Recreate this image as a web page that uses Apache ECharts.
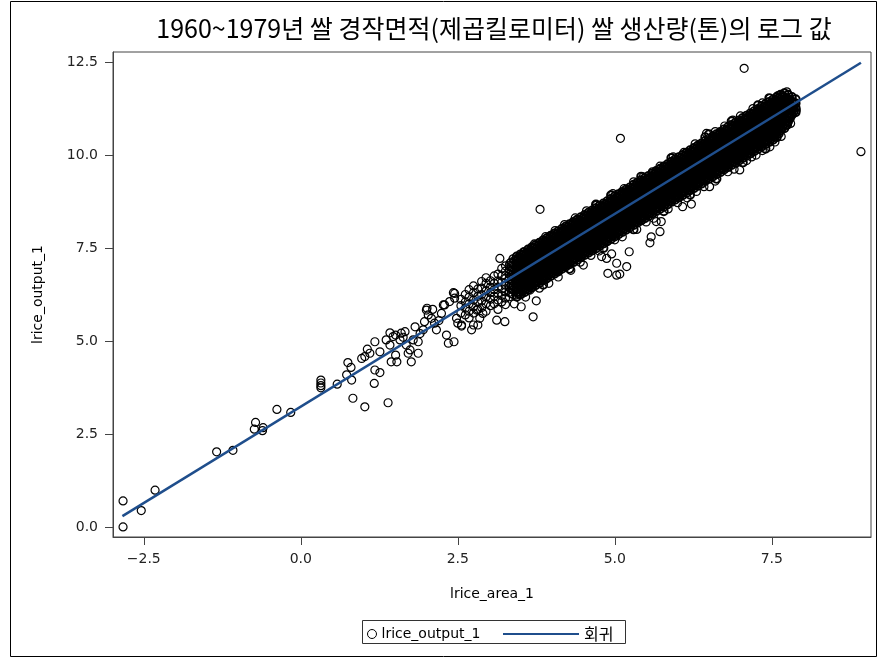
<!DOCTYPE html>
<html>
<head>
<meta charset="utf-8">
<script src="https://cdn.jsdelivr.net/npm/echarts@6/dist/echarts.min.js"></script>
<style>
  html, body { margin: 0; padding: 0; background: #fff; }
  #chart { width: 878px; height: 659px; }
</style>
</head>
<body>
<div id="chart"></div>
<script>
// tick labels
var xTicks = [-2.5, 0, 2.5, 5, 7.5];
var yTicks = [0, 2.5, 5, 7.5, 10, 12.5];

// sparse points, lower left part of the cloud
var lowPoints = [
  [-2.83, 0.70], [-2.83, 0.0], [-2.54, 0.44], [-2.32, 0.99], [-1.34, 2.02], [-1.08, 2.06],
  [-0.72, 2.81], [-0.74, 2.63], [-0.60, 2.67], [-0.61, 2.59], [-0.38, 3.16], [-0.16, 3.08],
  [0.32, 3.95], [0.32, 3.87], [0.32, 3.80], [0.32, 3.74], [0.58, 3.84], [0.81, 3.95],
  [0.73, 4.09], [0.75, 4.42], [0.80, 4.29], [0.83, 3.46], [1.02, 3.23], [1.39, 3.34],
  [1.17, 3.86], [1.18, 4.22], [1.26, 4.15], [0.97, 4.53], [1.02, 4.58], [1.10, 4.67],
  [1.06, 4.78], [1.18, 4.98], [1.26, 4.71], [1.36, 5.03], [1.42, 4.89], [1.47, 5.12],
  [1.44, 4.44], [1.53, 4.44], [1.51, 4.62], [1.51, 5.16], [1.60, 5.21], [1.66, 5.25],
  [1.68, 4.89], [1.71, 4.67], [1.76, 4.44], [1.74, 4.76], [1.79, 5.03], [1.82, 5.38],
  [1.87, 4.98], [1.87, 4.67], [1.95, 5.30], [1.97, 5.52], [2.03, 5.70], [2.01, 5.88],
  [2.08, 5.61], [2.13, 5.48], [2.16, 5.30], [2.24, 5.74], [2.32, 5.16], [2.35, 4.94],
  [2.44, 4.98], [2.29, 5.97], [2.37, 6.06], [2.45, 6.15], [2.45, 6.28], [2.48, 5.61],
  [2.50, 5.48], [1.42, 5.22], [1.58, 5.03], [1.63, 5.10], [1.90, 5.20], [2.10, 5.85],
  [2.20, 5.55], [2.00, 5.83], [2.27, 5.97], [2.43, 6.30]
];

// points off the main band (below it, and the few far outliers)
var strayPoints = [
  [3.81, 8.54], [5.09, 10.45], [7.06, 12.33], [8.92, 10.09],
  [2.56, 5.40], [2.72, 5.30], [2.82, 5.43], [2.85, 5.61], [2.90, 5.74], [3.12, 5.56],
  [3.25, 5.52], [3.51, 5.92], [3.70, 5.65], [3.75, 6.08], [3.17, 7.22], [3.33, 7.09],
  [2.75, 5.43], [2.56, 5.43], [2.80, 5.83], [3.43, 6.24], [3.65, 6.37], [3.89, 6.64],
  [4.07, 6.86], [4.07, 6.95], [4.23, 7.09], [4.50, 7.04], [4.44, 7.49], [4.55, 7.40],
  [4.60, 7.45], [4.87, 7.67], [4.95, 7.34], [4.79, 7.27], [4.89, 6.82], [5.08, 6.80],
  [5.19, 7.00], [5.03, 7.09], [5.03, 6.77], [4.87, 7.22], [5.23, 7.40], [5.56, 7.64],
  [5.58, 7.80], [5.72, 7.94], [5.74, 8.21], [5.66, 8.21], [6.08, 8.61], [6.22, 8.68],
  [6.51, 9.15], [6.99, 9.60], [7.18, 9.95], [7.47, 10.22], [7.75, 10.81], [7.74, 11.70],
  [7.87, 11.39], [7.89, 11.21]
];

// ragged rim of the band, upper and lower side
var edgePoints = [
  [3.55, 7.40], [3.72, 7.61], [3.90, 7.81], [4.05, 7.97], [4.20, 8.13], [4.37, 8.31],
  [4.55, 8.50], [4.71, 8.65], [4.97, 8.96], [5.15, 9.10], [5.30, 9.28], [5.45, 9.41],
  [5.60, 9.55], [5.72, 9.70], [5.93, 9.95], [6.10, 10.07], [6.28, 10.30], [6.46, 10.58],
  [6.60, 10.63], [6.75, 10.78], [6.88, 10.94], [7.00, 11.05], [7.20, 11.25], [7.35, 11.40],
  [7.47, 11.52], [7.60, 11.60],
  [3.40, 6.00], [3.58, 6.18], [3.80, 6.42], [3.95, 6.55], [4.10, 6.72], [4.30, 6.90],
  [4.45, 7.12], [4.62, 7.30], [4.75, 7.42], [5.00, 7.72], [5.12, 7.80], [5.35, 8.00],
  [5.50, 8.20], [5.62, 8.30], [5.85, 8.55], [6.00, 8.72], [6.15, 8.85], [6.30, 9.02],
  [6.42, 9.15], [6.60, 9.30], [6.80, 9.55], [6.90, 9.62], [7.10, 9.85], [7.25, 10.00],
  [7.35, 10.12], [7.55, 10.35], [7.65, 10.50], [7.80, 10.85]
];

// the looser start of the band, x 2.5 to 3.4
var bandStartRows = [
  [2.55, 5.75, 5.95, 6.12],
  [2.62, 5.70, 5.88, 6.05, 6.25],
  [2.68, 5.62, 5.80, 6.00, 6.18, 6.38],
  [2.75, 5.75, 5.92, 6.10, 6.30, 6.48],
  [2.82, 5.85, 6.05, 6.20, 6.40],
  [2.88, 5.90, 6.08, 6.25, 6.42, 6.60],
  [2.95, 5.80, 6.00, 6.18, 6.35, 6.55, 6.70],
  [3.02, 5.95, 6.12, 6.30, 6.45, 6.62],
  [3.08, 6.00, 6.20, 6.38, 6.55, 6.75],
  [3.14, 5.85, 6.10, 6.28, 6.45, 6.62, 6.80],
  [3.20, 6.05, 6.22, 6.40, 6.58, 6.75, 6.95],
  [3.26, 5.98, 6.15, 6.32, 6.50, 6.68, 6.88, 7.02],
  [3.32, 6.19, 6.31, 6.43, 6.55, 6.67, 6.79, 6.91, 7.03],
  [3.35, 6.28, 6.40, 6.52, 6.64, 6.76, 6.88, 7.00, 7.12],
  [3.38, 6.25, 6.37, 6.49, 6.61, 6.73, 6.85, 6.97, 7.09, 7.21],
  [3.41, 6.34, 6.46, 6.58, 6.70, 6.82, 6.94, 7.06, 7.18]
];

// dense band, one row per x: [x, y, y, ...]
var bandRows = [
  [3.44, 6.19, 6.31, 6.43, 6.55, 6.67, 6.79, 6.91, 7.03, 7.15, 7.27],
  [3.50, 6.25, 6.37, 6.49, 6.61, 6.73, 6.85, 6.97, 7.09, 7.21, 7.33],
  [3.56, 6.31, 6.43, 6.55, 6.67, 6.79, 6.91, 7.03, 7.15, 7.27, 7.39],
  [3.62, 6.38, 6.50, 6.62, 6.74, 6.86, 6.98, 7.10, 7.22, 7.34, 7.46],
  [3.68, 6.44, 6.56, 6.68, 6.80, 6.92, 7.04, 7.16, 7.28, 7.40, 7.52],
  [3.74, 6.50, 6.62, 6.74, 6.86, 6.98, 7.10, 7.22, 7.34, 7.46, 7.58],
  [3.80, 6.56, 6.68, 6.80, 6.92, 7.04, 7.16, 7.28, 7.40, 7.52, 7.64],
  [3.86, 6.51, 6.63, 6.75, 6.87, 6.99, 7.11, 7.23, 7.35, 7.47, 7.59, 7.71],
  [3.92, 6.69, 6.81, 6.93, 7.05, 7.17, 7.29, 7.41, 7.53, 7.65, 7.77],
  [3.98, 6.75, 6.87, 6.99, 7.11, 7.23, 7.35, 7.47, 7.59, 7.71, 7.83],
  [4.04, 6.81, 6.93, 7.05, 7.17, 7.29, 7.41, 7.53, 7.65, 7.77, 7.89],
  [4.10, 6.87, 6.99, 7.11, 7.23, 7.35, 7.47, 7.59, 7.71, 7.83, 7.95],
  [4.16, 6.94, 7.06, 7.18, 7.30, 7.42, 7.54, 7.66, 7.78, 7.90, 8.02],
  [4.22, 7.00, 7.12, 7.24, 7.36, 7.48, 7.60, 7.72, 7.84, 7.96, 8.08],
  [4.28, 6.94, 7.06, 7.18, 7.30, 7.42, 7.54, 7.66, 7.78, 7.90, 8.02, 8.14],
  [4.34, 7.12, 7.24, 7.36, 7.48, 7.60, 7.72, 7.84, 7.96, 8.08, 8.20],
  [4.40, 7.18, 7.30, 7.42, 7.54, 7.66, 7.78, 7.90, 8.02, 8.14, 8.26],
  [4.46, 7.25, 7.37, 7.49, 7.61, 7.73, 7.85, 7.97, 8.09, 8.21, 8.33],
  [4.52, 7.31, 7.43, 7.55, 7.67, 7.79, 7.91, 8.03, 8.15, 8.27, 8.39],
  [4.58, 7.37, 7.49, 7.61, 7.73, 7.85, 7.97, 8.09, 8.21, 8.33, 8.45],
  [4.64, 7.43, 7.55, 7.67, 7.79, 7.91, 8.03, 8.15, 8.27, 8.39, 8.51],
  [4.70, 7.49, 7.61, 7.73, 7.85, 7.97, 8.09, 8.21, 8.33, 8.45, 8.57, 8.67],
  [4.76, 7.56, 7.68, 7.80, 7.92, 8.04, 8.16, 8.28, 8.40, 8.52, 8.64],
  [4.82, 7.50, 7.62, 7.74, 7.86, 7.98, 8.10, 8.22, 8.34, 8.46, 8.58, 8.70],
  [4.88, 7.68, 7.80, 7.92, 8.04, 8.16, 8.28, 8.40, 8.52, 8.64, 8.76],
  [4.94, 7.74, 7.86, 7.98, 8.10, 8.22, 8.34, 8.46, 8.58, 8.70, 8.82, 8.92],
  [5.00, 7.81, 7.93, 8.05, 8.17, 8.29, 8.41, 8.53, 8.65, 8.77, 8.89],
  [5.06, 7.87, 7.99, 8.11, 8.23, 8.35, 8.47, 8.59, 8.71, 8.83, 8.95],
  [5.12, 7.93, 8.05, 8.17, 8.29, 8.41, 8.53, 8.65, 8.77, 8.89, 9.01],
  [5.18, 7.99, 8.11, 8.23, 8.35, 8.47, 8.59, 8.71, 8.83, 8.95, 9.07],
  [5.24, 8.05, 8.17, 8.29, 8.41, 8.53, 8.65, 8.77, 8.89, 9.01, 9.13],
  [5.30, 8.00, 8.12, 8.24, 8.36, 8.48, 8.60, 8.72, 8.84, 8.96, 9.08, 9.20],
  [5.36, 8.18, 8.30, 8.42, 8.54, 8.66, 8.78, 8.90, 9.02, 9.14, 9.26],
  [5.42, 8.24, 8.36, 8.48, 8.60, 8.72, 8.84, 8.96, 9.08, 9.20, 9.32, 9.42],
  [5.48, 8.30, 8.42, 8.54, 8.66, 8.78, 8.90, 9.02, 9.14, 9.26, 9.38],
  [5.54, 8.36, 8.48, 8.60, 8.72, 8.84, 8.96, 9.08, 9.20, 9.32, 9.44],
  [5.60, 8.43, 8.55, 8.67, 8.79, 8.91, 9.03, 9.15, 9.27, 9.39, 9.51],
  [5.66, 8.49, 8.61, 8.73, 8.85, 8.97, 9.09, 9.21, 9.33, 9.45, 9.57],
  [5.72, 8.55, 8.67, 8.79, 8.91, 9.03, 9.15, 9.27, 9.39, 9.51, 9.63],
  [5.78, 8.49, 8.61, 8.73, 8.85, 8.97, 9.09, 9.21, 9.33, 9.45, 9.57, 9.69],
  [5.84, 8.67, 8.79, 8.91, 9.03, 9.15, 9.27, 9.39, 9.51, 9.63, 9.75],
  [5.90, 8.74, 8.86, 8.98, 9.10, 9.22, 9.34, 9.46, 9.58, 9.70, 9.82, 9.92],
  [5.96, 8.80, 8.92, 9.04, 9.16, 9.28, 9.40, 9.52, 9.64, 9.76, 9.88],
  [6.02, 8.86, 8.98, 9.10, 9.22, 9.34, 9.46, 9.58, 9.70, 9.82, 9.94],
  [6.08, 8.92, 9.04, 9.16, 9.28, 9.40, 9.52, 9.64, 9.76, 9.88, 10.00],
  [6.14, 8.98, 9.10, 9.22, 9.34, 9.46, 9.58, 9.70, 9.82, 9.94, 10.06],
  [6.20, 8.93, 9.05, 9.17, 9.29, 9.41, 9.53, 9.65, 9.77, 9.89, 10.01, 10.13],
  [6.26, 9.11, 9.23, 9.35, 9.47, 9.59, 9.71, 9.83, 9.95, 10.07, 10.19],
  [6.32, 9.17, 9.29, 9.41, 9.53, 9.65, 9.77, 9.89, 10.01, 10.13, 10.25],
  [6.38, 9.23, 9.35, 9.47, 9.59, 9.71, 9.83, 9.95, 10.07, 10.19, 10.31],
  [6.44, 9.30, 9.42, 9.54, 9.66, 9.78, 9.90, 10.02, 10.14, 10.26, 10.38, 10.48],
  [6.50, 9.36, 9.48, 9.60, 9.72, 9.84, 9.96, 10.08, 10.20, 10.32, 10.44, 10.56],
  [6.56, 9.42, 9.54, 9.66, 9.78, 9.90, 10.02, 10.14, 10.26, 10.38, 10.50],
  [6.62, 9.36, 9.48, 9.60, 9.72, 9.84, 9.96, 10.08, 10.20, 10.32, 10.44, 10.56],
  [6.68, 9.54, 9.66, 9.78, 9.90, 10.02, 10.14, 10.26, 10.38, 10.50, 10.62],
  [6.74, 9.61, 9.73, 9.85, 9.97, 10.09, 10.21, 10.33, 10.45, 10.57, 10.69],
  [6.80, 9.67, 9.79, 9.91, 10.03, 10.15, 10.27, 10.39, 10.51, 10.63, 10.75],
  [6.86, 9.73, 9.85, 9.97, 10.09, 10.21, 10.33, 10.45, 10.57, 10.69, 10.81, 10.91],
  [6.92, 9.79, 9.91, 10.03, 10.15, 10.27, 10.39, 10.51, 10.63, 10.75, 10.87],
  [6.98, 9.85, 9.97, 10.09, 10.21, 10.33, 10.45, 10.57, 10.69, 10.81, 10.93],
  [7.04, 9.80, 9.92, 10.04, 10.16, 10.28, 10.40, 10.52, 10.64, 10.76, 10.88, 11.00],
  [7.10, 9.98, 10.10, 10.22, 10.34, 10.46, 10.58, 10.70, 10.82, 10.94, 11.06],
  [7.16, 10.04, 10.16, 10.28, 10.40, 10.52, 10.64, 10.76, 10.88, 11.00, 11.12],
  [7.22, 10.10, 10.22, 10.34, 10.46, 10.58, 10.70, 10.82, 10.94, 11.06, 11.18],
  [7.28, 10.16, 10.28, 10.40, 10.52, 10.64, 10.76, 10.88, 11.00, 11.12, 11.24, 11.34],
  [7.34, 10.23, 10.35, 10.47, 10.59, 10.71, 10.83, 10.95, 11.07, 11.19, 11.31],
  [7.40, 10.17, 10.29, 10.41, 10.53, 10.65, 10.77, 10.89, 11.01, 11.13, 11.25, 11.37],
  [7.46, 10.35, 10.47, 10.59, 10.71, 10.83, 10.95, 11.07, 11.19, 11.31, 11.43, 11.53],
  [7.52, 10.41, 10.53, 10.65, 10.77, 10.89, 11.01, 11.13, 11.25, 11.37, 11.49],
  [7.58, 10.48, 10.60, 10.72, 10.84, 10.96, 11.08, 11.20, 11.32, 11.44, 11.56],
  [7.64, 10.66, 10.78, 10.90, 11.02, 11.14, 11.26, 11.38, 11.50, 11.62],
  [7.70, 10.72, 10.84, 10.96, 11.08, 11.20, 11.32, 11.44, 11.56, 11.66],
  [7.76, 10.90, 11.02, 11.14, 11.26, 11.38, 11.50, 11.62],
  [7.82, 11.08, 11.20, 11.32, 11.44, 11.56],
  [7.88, 11.15, 11.27, 11.39, 11.50]
];

// more of the band, read between the rows above
var bandMidRows = [
  [3.47, 6.28, 6.40, 6.52, 6.64, 6.76, 6.88, 7.00, 7.12, 7.24],
  [3.53, 6.34, 6.46, 6.58, 6.70, 6.82, 6.94, 7.06, 7.18, 7.30],
  [3.59, 6.40, 6.52, 6.64, 6.76, 6.88, 7.00, 7.12, 7.24, 7.36],
  [3.65, 6.47, 6.59, 6.71, 6.83, 6.95, 7.07, 7.19, 7.31, 7.43],
  [3.71, 6.53, 6.65, 6.77, 6.89, 7.01, 7.13, 7.25, 7.37, 7.49],
  [3.77, 6.59, 6.71, 6.83, 6.95, 7.07, 7.19, 7.31, 7.43, 7.55],
  [3.83, 6.65, 6.77, 6.89, 7.01, 7.13, 7.25, 7.37, 7.49, 7.61],
  [3.89, 6.72, 6.84, 6.96, 7.08, 7.20, 7.32, 7.44, 7.56, 7.68],
  [3.95, 6.78, 6.90, 7.02, 7.14, 7.26, 7.38, 7.50, 7.62, 7.74],
  [4.01, 6.84, 6.96, 7.08, 7.20, 7.32, 7.44, 7.56, 7.68, 7.80],
  [4.07, 6.90, 7.02, 7.14, 7.26, 7.38, 7.50, 7.62, 7.74, 7.86],
  [4.13, 6.96, 7.08, 7.20, 7.32, 7.44, 7.56, 7.68, 7.80, 7.92],
  [4.19, 7.03, 7.15, 7.27, 7.39, 7.51, 7.63, 7.75, 7.87, 7.99],
  [4.25, 7.09, 7.21, 7.33, 7.45, 7.57, 7.69, 7.81, 7.93, 8.05],
  [4.31, 7.15, 7.27, 7.39, 7.51, 7.63, 7.75, 7.87, 7.99, 8.11],
  [4.37, 7.21, 7.33, 7.45, 7.57, 7.69, 7.81, 7.93, 8.05, 8.17],
  [4.43, 7.27, 7.39, 7.51, 7.63, 7.75, 7.87, 7.99, 8.11, 8.23],
  [4.49, 7.34, 7.46, 7.58, 7.70, 7.82, 7.94, 8.06, 8.18, 8.30],
  [4.55, 7.40, 7.52, 7.64, 7.76, 7.88, 8.00, 8.12, 8.24, 8.36],
  [4.61, 7.46, 7.58, 7.70, 7.82, 7.94, 8.06, 8.18, 8.30, 8.42],
  [4.67, 7.52, 7.64, 7.76, 7.88, 8.00, 8.12, 8.24, 8.36, 8.48],
  [4.73, 7.58, 7.70, 7.82, 7.94, 8.06, 8.18, 8.30, 8.42, 8.54],
  [4.79, 7.65, 7.77, 7.89, 8.01, 8.13, 8.25, 8.37, 8.49, 8.61],
  [4.85, 7.71, 7.83, 7.95, 8.07, 8.19, 8.31, 8.43, 8.55, 8.67],
  [4.91, 7.77, 7.89, 8.01, 8.13, 8.25, 8.37, 8.49, 8.61, 8.73],
  [4.97, 7.83, 7.95, 8.07, 8.19, 8.31, 8.43, 8.55, 8.67, 8.79],
  [5.03, 7.90, 8.02, 8.14, 8.26, 8.38, 8.50, 8.62, 8.74, 8.86],
  [5.09, 7.96, 8.08, 8.20, 8.32, 8.44, 8.56, 8.68, 8.80, 8.92],
  [5.15, 8.02, 8.14, 8.26, 8.38, 8.50, 8.62, 8.74, 8.86, 8.98],
  [5.21, 8.08, 8.20, 8.32, 8.44, 8.56, 8.68, 8.80, 8.92, 9.04],
  [5.27, 8.14, 8.26, 8.38, 8.50, 8.62, 8.74, 8.86, 8.98, 9.10],
  [5.33, 8.21, 8.33, 8.45, 8.57, 8.69, 8.81, 8.93, 9.05, 9.17],
  [5.39, 8.27, 8.39, 8.51, 8.63, 8.75, 8.87, 8.99, 9.11, 9.23],
  [5.45, 8.33, 8.45, 8.57, 8.69, 8.81, 8.93, 9.05, 9.17, 9.29],
  [5.51, 8.39, 8.51, 8.63, 8.75, 8.87, 8.99, 9.11, 9.23, 9.35],
  [5.57, 8.45, 8.57, 8.69, 8.81, 8.93, 9.05, 9.17, 9.29, 9.41],
  [5.63, 8.52, 8.64, 8.76, 8.88, 9.00, 9.12, 9.24, 9.36, 9.48],
  [5.69, 8.58, 8.70, 8.82, 8.94, 9.06, 9.18, 9.30, 9.42, 9.54],
  [5.75, 8.64, 8.76, 8.88, 9.00, 9.12, 9.24, 9.36, 9.48, 9.60],
  [5.81, 8.70, 8.82, 8.94, 9.06, 9.18, 9.30, 9.42, 9.54, 9.66],
  [5.87, 8.76, 8.88, 9.00, 9.12, 9.24, 9.36, 9.48, 9.60, 9.72],
  [5.93, 8.83, 8.95, 9.07, 9.19, 9.31, 9.43, 9.55, 9.67, 9.79],
  [5.99, 8.89, 9.01, 9.13, 9.25, 9.37, 9.49, 9.61, 9.73, 9.85],
  [6.05, 8.95, 9.07, 9.19, 9.31, 9.43, 9.55, 9.67, 9.79, 9.91],
  [6.11, 9.01, 9.13, 9.25, 9.37, 9.49, 9.61, 9.73, 9.85, 9.97],
  [6.17, 9.07, 9.19, 9.31, 9.43, 9.55, 9.67, 9.79, 9.91, 10.03],
  [6.23, 9.14, 9.26, 9.38, 9.50, 9.62, 9.74, 9.86, 9.98, 10.10],
  [6.29, 9.20, 9.32, 9.44, 9.56, 9.68, 9.80, 9.92, 10.04, 10.16],
  [6.35, 9.26, 9.38, 9.50, 9.62, 9.74, 9.86, 9.98, 10.10, 10.22],
  [6.41, 9.32, 9.44, 9.56, 9.68, 9.80, 9.92, 10.04, 10.16, 10.28],
  [6.47, 9.39, 9.51, 9.63, 9.75, 9.87, 9.99, 10.11, 10.23, 10.35],
  [6.53, 9.45, 9.57, 9.69, 9.81, 9.93, 10.05, 10.17, 10.29, 10.41],
  [6.59, 9.51, 9.63, 9.75, 9.87, 9.99, 10.11, 10.23, 10.35, 10.47],
  [6.65, 9.57, 9.69, 9.81, 9.93, 10.05, 10.17, 10.29, 10.41, 10.53],
  [6.71, 9.63, 9.75, 9.87, 9.99, 10.11, 10.23, 10.35, 10.47, 10.59],
  [6.77, 9.70, 9.82, 9.94, 10.06, 10.18, 10.30, 10.42, 10.54, 10.66],
  [6.83, 9.76, 9.88, 10.00, 10.12, 10.24, 10.36, 10.48, 10.60, 10.72],
  [6.89, 9.82, 9.94, 10.06, 10.18, 10.30, 10.42, 10.54, 10.66, 10.78],
  [6.95, 9.88, 10.00, 10.12, 10.24, 10.36, 10.48, 10.60, 10.72, 10.84],
  [7.01, 9.94, 10.06, 10.18, 10.30, 10.42, 10.54, 10.66, 10.78, 10.90],
  [7.07, 10.01, 10.13, 10.25, 10.37, 10.49, 10.61, 10.73, 10.85, 10.97],
  [7.13, 10.07, 10.19, 10.31, 10.43, 10.55, 10.67, 10.79, 10.91, 11.03],
  [7.19, 10.13, 10.25, 10.37, 10.49, 10.61, 10.73, 10.85, 10.97, 11.09],
  [7.25, 10.19, 10.31, 10.43, 10.55, 10.67, 10.79, 10.91, 11.03, 11.15],
  [7.31, 10.25, 10.37, 10.49, 10.61, 10.73, 10.85, 10.97, 11.09, 11.21],
  [7.37, 10.32, 10.44, 10.56, 10.68, 10.80, 10.92, 11.04, 11.16, 11.28],
  [7.43, 10.38, 10.50, 10.62, 10.74, 10.86, 10.98, 11.10, 11.22, 11.34],
  [7.49, 10.44, 10.56, 10.68, 10.80, 10.92, 11.04, 11.16, 11.28, 11.40],
  [7.55, 10.50, 10.62, 10.74, 10.86, 10.98, 11.10, 11.22, 11.34, 11.46],
  [7.61, 10.57, 10.69, 10.81, 10.93, 11.05, 11.17, 11.29, 11.41, 11.53],
  [7.67, 10.75, 10.87, 10.99, 11.11, 11.23, 11.35, 11.47, 11.59],
  [7.73, 10.81, 10.93, 11.05, 11.17, 11.29, 11.41, 11.53],
  [7.79, 10.99, 11.11, 11.23, 11.35, 11.47],
  [7.85, 11.17, 11.29, 11.41]
];

// regression line end points
var regX = [-2.84, 8.92];
var regY = [0.29, 12.48];

function rowsToPoints(rows) {
  var out = [];
  rows.forEach(function (r) {
    for (var i = 1; i < r.length; i++) out.push([r[0], r[i]]);
  });
  return out;
}

var sparseData = lowPoints.concat(rowsToPoints(bandStartRows), strayPoints, edgePoints);
var bandData = rowsToPoints(bandRows).concat(rowsToPoints(bandMidRows));
var lineData = regX.map(function (x, i) { return [x, regY[i]]; });

var font = "DejaVu Sans";
var fmt = function (v) {
  var s = Math.abs(v).toFixed(1);
  return v < 0 ? "\u2212" + s : s;
};

var myChart = echarts.init(document.getElementById("chart"));
myChart.setOption({
  animation: false,
  backgroundColor: "#fff",
  title: {
    text: "1960~1979년 쌀 경작면적(제곱킬로미터) 쌀 생산량(톤)의 로그 값",
    left: 494,
    top: 16,
    padding: 0,
    textAlign: "center",
    textStyle: { fontFamily: "Noto Sans CJK KR", fontSize: 25, fontWeight: "normal", color: "#000" }
  },
  grid: {
    left: 113, right: 7, top: 52, bottom: 122,
    show: true, borderColor: "#444", borderWidth: 1
  },
  xAxis: {
    type: "value",
    min: -2.99,
    max: 9.08,
    name: "lrice_area_1",
    nameLocation: "middle",
    nameGap: 50,
    nameTextStyle: { fontFamily: font, fontSize: 14, color: "#000" },
    axisLine: { onZero: false, lineStyle: { color: "#444" } },
    axisTick: { customValues: xTicks, length: 8, lineStyle: { color: "#444" } },
    axisLabel: { customValues: xTicks, margin: 15, formatter: fmt, fontFamily: font, fontSize: 14, color: "#222" },
    splitLine: { show: false }
  },
  yAxis: {
    type: "value",
    min: -0.27,
    max: 12.77,
    name: "lrice_output_1",
    nameLocation: "middle",
    nameRotate: 90,
    nameGap: 68,
    nameTextStyle: { fontFamily: font, fontSize: 14, color: "#000" },
    axisLine: { show: true, onZero: false, lineStyle: { color: "#444" } },
    axisTick: { show: true, customValues: yTicks, length: 8, lineStyle: { color: "#444" } },
    axisLabel: { customValues: yTicks, margin: 15, formatter: fmt, fontFamily: font, fontSize: 14, color: "#222" },
    splitLine: { show: false }
  },
  legend: [
    {
      left: 367, top: 627, padding: 0, selectedMode: false,
      itemWidth: 9, itemHeight: 9,
      data: [{ name: "lrice_output_1", icon: "circle" }],
      itemStyle: { color: "rgba(0,0,0,0)", borderColor: "#000", borderWidth: 1 },
      textStyle: { fontFamily: font, fontSize: 14, color: "#000" }
    },
    {
      left: 503, top: 626, padding: 0, selectedMode: false,
      itemWidth: 76, itemHeight: 2,
      data: [{ name: "회귀", icon: "rect" }],
      itemStyle: { color: "#1F4E8C" },
      textStyle: { fontFamily: "Noto Sans CJK KR", fontSize: 16, color: "#000" }
    }
  ],
  graphic: [
    {
      type: "rect", silent: true,
      shape: { x: 10.5, y: 1.5, width: 866, height: 655 },
      style: { fill: "none", stroke: "#000", lineWidth: 1 }
    },
    {
      type: "rect", silent: true,
      shape: { x: 362.5, y: 620.5, width: 263, height: 23 },
      style: { fill: "none", stroke: "#333", lineWidth: 1 }
    }
  ],
  series: [
    {
      name: "lrice_output_1",
      type: "scatter",
      data: sparseData,
      symbol: "circle",
      symbolSize: 8,
      progressive: 0,
      silent: true,
      itemStyle: { color: "rgba(0,0,0,0)", borderColor: "#000", borderWidth: 1.2, opacity: 1 }
    },
    {
      // same series name: the dense part of the cloud, drawn with a heavier ring
      name: "lrice_output_1",
      type: "scatter",
      data: bandData,
      symbol: "circle",
      symbolSize: 8,
      progressive: 0,
      silent: true,
      itemStyle: { color: "rgba(0,0,0,0)", borderColor: "#000", borderWidth: 1.9, opacity: 1 }
    },
    {
      name: "회귀",
      type: "line",
      data: lineData,
      showSymbol: false,
      silent: true,
      z: 5,
      itemStyle: { color: "#1F4E8C" },
      lineStyle: { color: "#1F4E8C", width: 2.5 }
    }
  ]
});
</script>
</body>
</html>
